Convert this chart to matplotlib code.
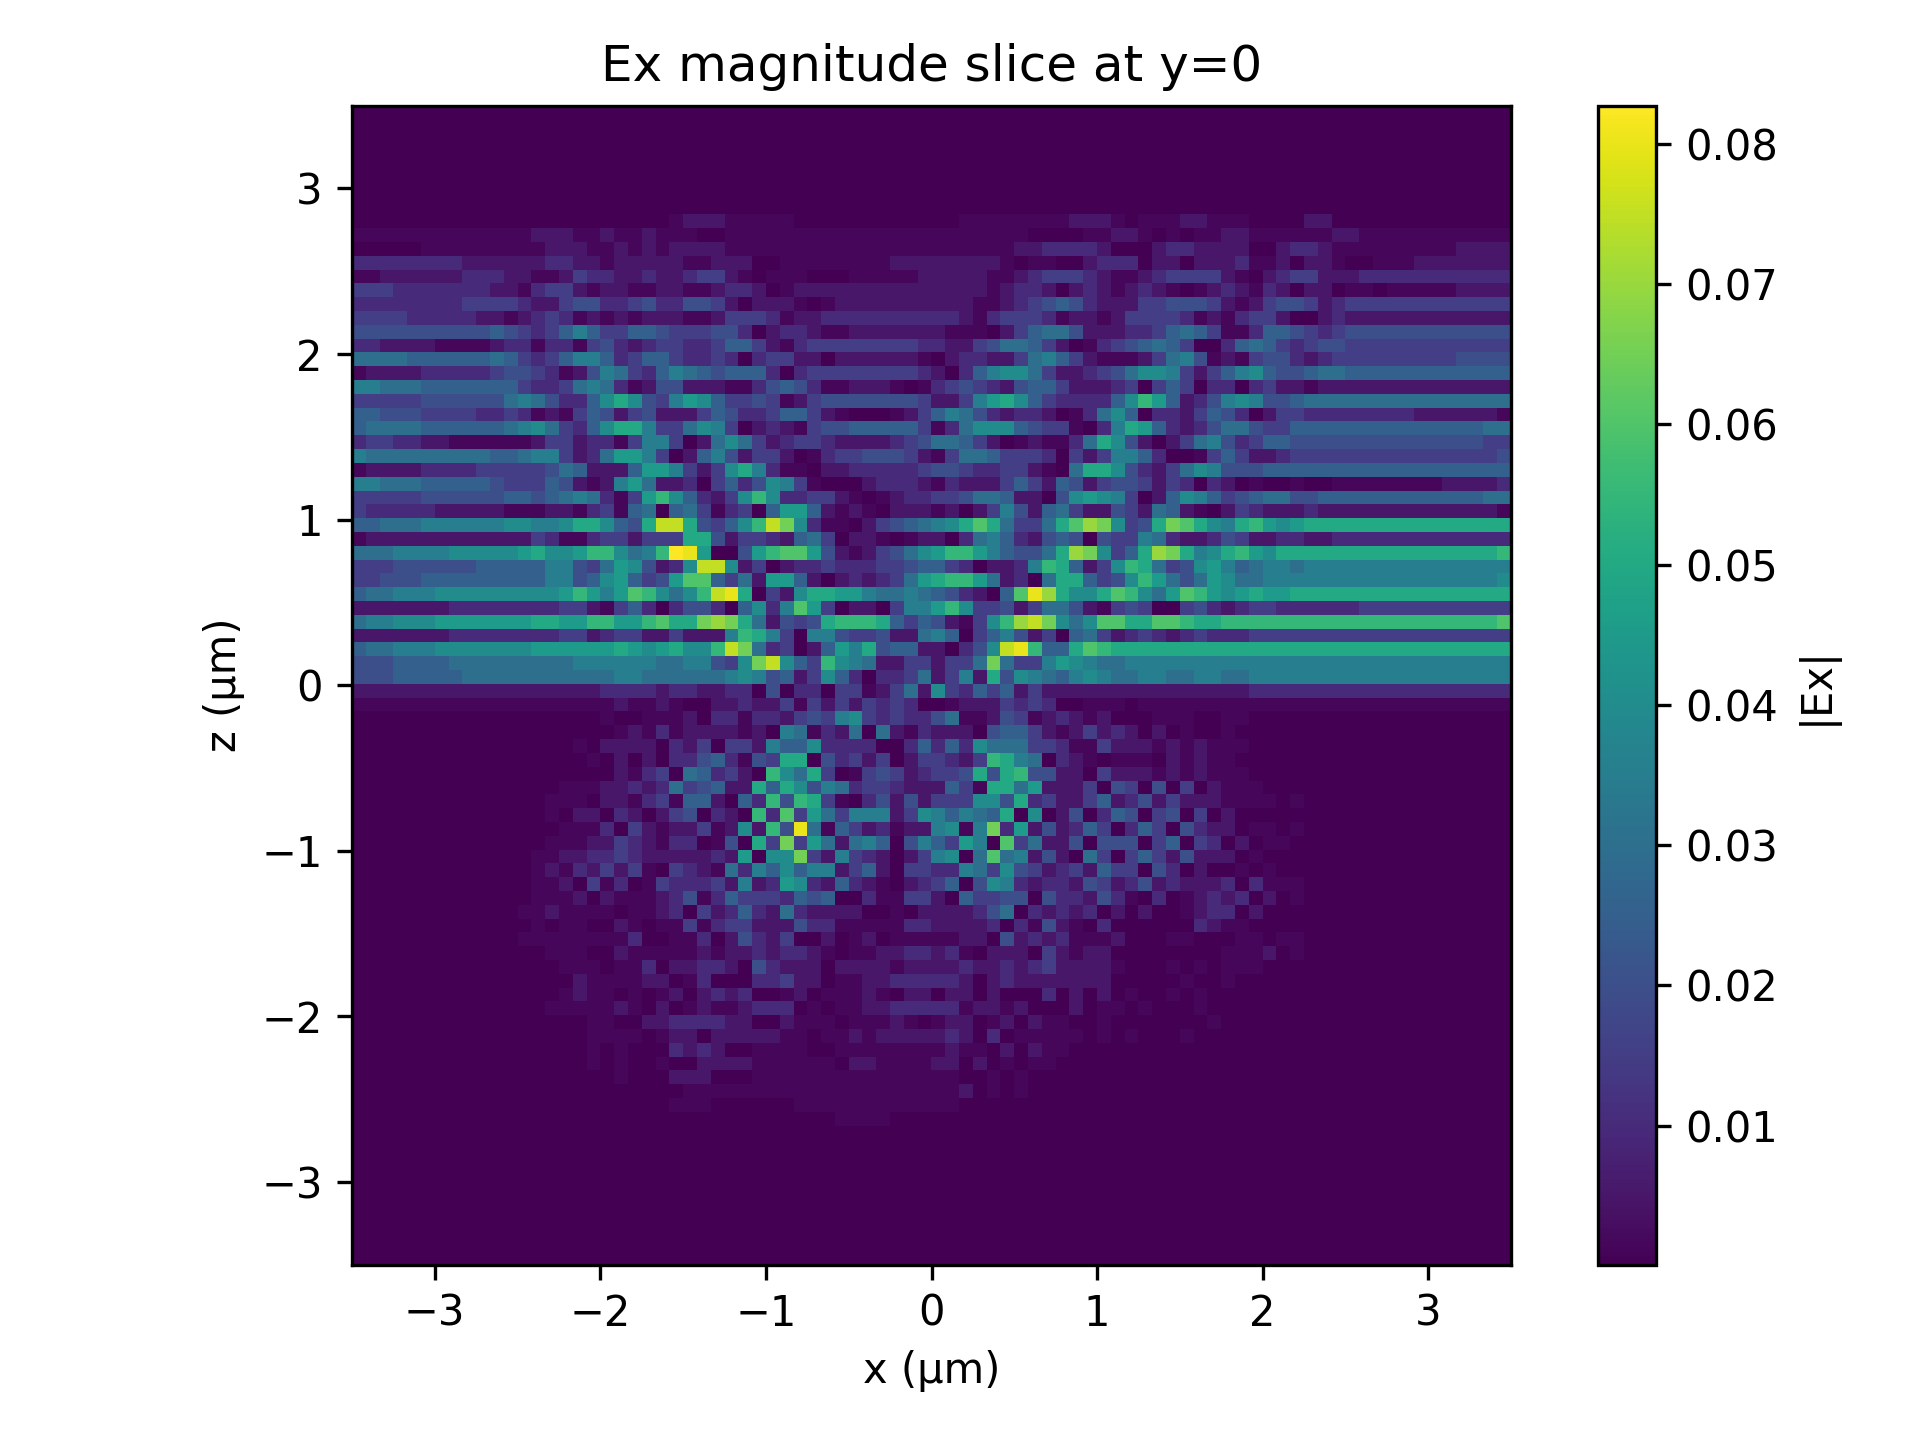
import numpy as np
import matplotlib
matplotlib.use("Agg")
import matplotlib.pyplot as plt

TITLE = "Ex magnitude slice at y=0"
X_LABEL = "x (µm)"
Z_LABEL = "z (µm)"
BAR_LABEL = "|Ex|"

# Legend of the hand-read cell codes, in |Ex| units.
CODES = "_0123456789abcdefgh"
CODE_VALUES = [0.0004, 0.0016, 0.005, 0.010, 0.015, 0.020, 0.025, 0.030, 0.035, 0.040,
               0.045, 0.050, 0.055, 0.060, 0.065, 0.070, 0.075, 0.080, 0.0827]

# Cell edges of the solver grid (µm).
X_FIRST_EDGE, X_STEP, N_X = -3.5, 0.08333, 85
Z_FIRST_EDGE, Z_STEP, N_Z = 3.511, -0.0834, 85

# One line per z row, top to bottom; four blocks per line: columns 0-21, 22-43, 44-64, 65-84.
# A short block repeats its last code up to the block width.
ex_rows = [
"_ _ _ _", "_ _ _ _", "_ _ _ _", "_ _ _ _", "_ _ _ _", "_ _ _ _", "_ _ _ _", "_ _ _ _",
"______________________ _011100000____________ 000000001110_00011000 ____11______________",
"0000000000000111001001 000__00000000000000000 00000____00110_0_0011 00000011000000000000",
"_____00000000011100101 0111100000000000000000 00001122221___1221111 __122100000000011111",
"2222222211111122110111 1100111__0000000011111 1110_00__1222_11_1112 001_110__00011111111",
"0011111122211001322112 1123310_000___00000111 110012333210012333310 _1233111222222222222",
"3332222222110233101100 11001221_0111111111111 1101221_12101210_0121 021_11_00_0000011111",
"2222222233332113442234 224431_1110_0111111111 100123454211133444310 13443123333333333333",
"3333222221101232010101 1100133320112222222222 102333201101333320102 331__121111111111110",
"4444444444543235753355 4333442_12210011111110 00_135664111223565300 25543234444444444444",
"2211110000122022034212 3322355310233333333221 13466531_02345653__25 65323443333333333333",
"6666555555653235775235 532232_23311_1111110_1 221136753100013674010 34421233333333344444",
"0111122222344320147632 576545552_23333333321_ 257886311234688731357 85445665555555555555",
"7766655555553223676201 441110024542001110_023 4321455311123_353_22_ 23110111111111111112",
"3333344444467642258a84 3798533430134444444311 379a853222258b9512478 74456666666666666666",
"5544433332232010354134 11135422355310___01357 6421221_02685_2213542 _1332222222211111100",
"5666655555567863258aa7 336873_121034455555302 688854330_27a95212466 43355555555555555666",
"2332211000000133122037 73_1686312332111123466 531_010026a841_136742 35544444444444444333",
"7666666666556773126997 3_15741331_02334443103 6653332_3137752__0353 11233333333333333344",
"0111122223333346511159 973138a7200_1122222344 3223310_6aa8421368744 45555555555555555555",
"7766655555433354101796 112_35248730___1222102 11135315413443132_21_ 0__0__00000000111122",
"3333344444455456762039 b852138b8223310_012233 466511_489873_1587534 56644555555555555666",
"3222221111100011023056 _563023_59951010_11101 _13741563114316510_13 21112111111111111100",
"5566677777788778aa854a ffa4358bfd8200_1345678 aca6336aced834adca87a b989aaaaaaaaaaaaaaaa",
"0111111111111320023313 33aa413321563_110_011_ 267521454_43376211243 11221122222222222222",
"6667777888889a889bb867 bhg9__49bcc9410134689b b975446aed835aeda78ab 98aaaaaaaaaaaaaaaabb",
"3334444445555577436984 128ff813_1223222334553 2_1127ba5138ba6348975 67767777777777777777",
"3344455555555577458953 49cc53619951_1212369ab b9612_6aa5348b9646986 67777777777777777788",
"5667778888888889b979cb 868bfga_318aa997667654 21_5cgea88acb869cb989 a99aaaaaaaaaaaaaaaaa",
"1111111222222223310352 _2442_5827c93_11_3779b 83341366410343__34212 33222222333333333333",
"6778889999999aa99bb99b caadeda61434abbba53541 038befd868ccaaccbaabb bbbbbbbbbbbbbbbbbbcc",
"1111111222222223312331 131117ba73_77433411675 _357413_5631232123222 33333333333333333333",
"5667778888888999999a98 9a88bfd623_1597a45511_ 248fgb55acbaaaaaaaaaa aaaaaaaaaaaaaaaaaaab",
"4445555666666666777777 6677438df853b876113313 36d633798766777777777 77777777777777777777",
"4445555566666666666776 666667874513852_223613 71a487657876677667766 77777777777777777777",
"1111111111111111112222 1221122_4_22_330136183 253513111111111111111 22222222222222222222",
"0000000000000000000100 10__112113031313232__0 1113232__000_00000000 00000000000000000000",
"__________________0__0 001_220221343783232246 00143012101___000__00 _",
"___________________010 20111101_760216_610211 1_45531013121_1_0__0_ _",
"________________0_1111 _213_33175582222__2525 286663320031110101000 _",
"_________________0_1_1 _22452043aa_42313_1332 13ba76_210_000_10100_ _",
"___________________102 3_65231_b86a3_03431233 4a4ab4411_31110101000 _",
"_______________0001121 2634511a5a847623321115 30aa691113_43_4_3_100 0_",
"______________000_1102 30551_52b4ba30_2414133 3884a231135124131110 00_0_",
"______________0_11_21_ 134_21_b2c396377713875 765a_8_14_254_34_3_1_ _",
"_______________0002_31 01130181b4g60531201178 07d29141253_253_4211_ 00_0_",
"______________00011321 022_04_a3d3961675_4753 97_c36114_444_35_32_1 _00_",
"_____________001122321 1111219_88d317321_1378 _6c67141_63_35314111_ 0_",
"_____________010213130 _3210627585771351_3322 7638431231533_42_1__0 _0_",
"_____________001_302_0 32223171298215210_1235 _4872122143124121112_ 2000_",
"_____________0001_1000 1240253332545__200331_ 53344_4221420_2_01212 _1_0_",
"____________0010000_00 12_312521621111__0_111 1246_21212_1_1__0122_ 1_",
"_____________0_00__10_ 0030233111422000002211 112_20410_2______2100 _",
"____________000000002_ _002_14213__1_01_00000 11_412120001___00___0 0_00_",
"______________000__100 0001011212210_00112212 0_111_31011________00 01_0_",
"_______________000_002 _11221_42111_111101111 211212311110___0_0_00 0_",
"________________100001 1_02___22311_001122222 1_121111111_____0__0_ _",
"_______________0100_0_ 01_1212__01_00010_11_1 1_1___2_1_1_0__0_0___ _",
"______________0000010_ 1_01001222_0_001122222 01101___1_00_0___0___ _",
"_________________00__1 1222211__1000_00010_01 1_01_100__0_______0__ _",
"_________________0000_ 011_1111100_0010111112 1_2_00000_0_0___0____ _",
"_________________0_0__ _2121__0000__000000001 00_1_100___ _",
"_________________0_0__ 0__1111000000_11000011 _1_0_00___ _",
"___________________0__ _111___000000000000000 __0_0_____ _",
"_ __00000000000000000000 1_0_0_____ _",
"_ _000______000000000000 _ _",
"_ _____________0000_____ _ _",
]
ex_rows = ex_rows + ["_ _ _ _"] * (N_Z - len(ex_rows))

BLOCK_WIDTHS = [22, 22, 21, 20]


def parse_row(line):
    blocks = line.split()
    out = ""
    for block, width in zip(blocks, BLOCK_WIDTHS):
        out += block[:width].ljust(width, block[-1])
    return [CODE_VALUES[CODES.index(c)] for c in out]


ex_mag = np.array([parse_row(r) for r in ex_rows])
x_edges = X_FIRST_EDGE + X_STEP * np.arange(N_X + 1)
z_edges = Z_FIRST_EDGE + Z_STEP * np.arange(N_Z + 1)

fig = plt.figure(figsize=(6.4, 4.8), dpi=300)
W, H = 1920.0, 1440.0
ax = fig.add_axes([352 / W, (H - 1264.7) / H, 1159 / W, 1159 / H])
cax = fig.add_axes([1598 / W, (H - 1264.7) / H, 58 / W, 1159 / H])

mesh = ax.pcolormesh(x_edges, z_edges, ex_mag, cmap="viridis", vmin=0.0001, vmax=0.0827,
                     shading="flat", antialiased=False, linewidth=0, rasterized=True)
ax.set_xlim(-3.5, 3.5)
ax.set_ylim(-3.5, 3.5)
ax.set_xticks([-3, -2, -1, 0, 1, 2, 3])
ax.set_yticks([-3, -2, -1, 0, 1, 2, 3])
ax.tick_params(axis="x", pad=3.2)
ax.set_title(TITLE)
ax.set_xlabel(X_LABEL, labelpad=3.7)
ax.set_ylabel(Z_LABEL)

cb = fig.colorbar(mesh, cax=cax)
cb.set_ticks([0.01, 0.02, 0.03, 0.04, 0.05, 0.06, 0.07, 0.08])
cb.set_label(BAR_LABEL)

fig.savefig("out.png", dpi=300)
